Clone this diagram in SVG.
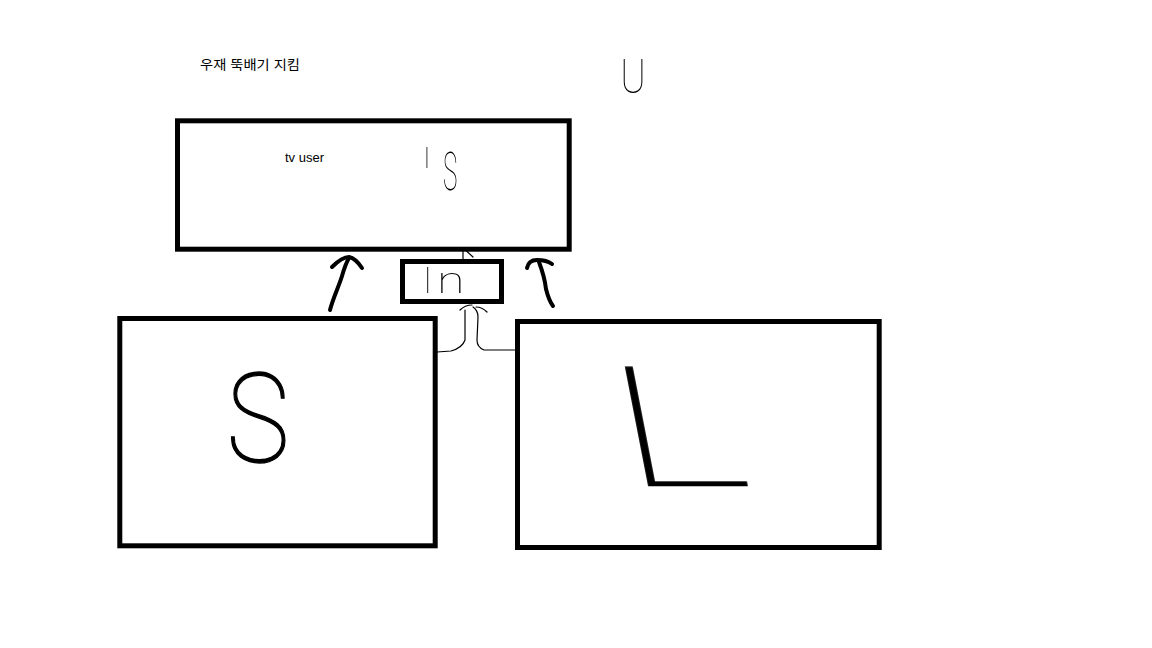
<svg xmlns="http://www.w3.org/2000/svg" width="1152" height="648" viewBox="0 0 1152 648">
<defs>
<filter id="gray" x="-20%" y="-20%" width="140%" height="140%"><feColorMatrix type="saturate" values="0"/></filter>
</defs>
<style>
.box{fill:none;stroke:#000;stroke-width:5}
.thick{fill:none;stroke:#000;stroke-width:4;stroke-linecap:round;stroke-linejoin:round}
.thin{fill:none;stroke:#000;stroke-width:1.2;stroke-linecap:round;stroke-linejoin:round}
.lbl{font-family:"Liberation Sans","Noto Sans CJK KR",sans-serif;font-size:13px;fill:#000}
.hand{font-family:Roboto,Inter,Lato,"DejaVu Sans",sans-serif;font-weight:100;fill:#000;filter:url(#gray)}
.bold{stroke:#000;stroke-width:1.3}
</style>
<rect width="1152" height="648" fill="#fff"/>
<text class="lbl" x="200" y="69" textLength="100" lengthAdjust="spacingAndGlyphs">우재 뚝배기 지킴</text>
<g id="mark-u">
<text class="hand" font-size="48" transform="translate(633,93) scale(0.8,1)" text-anchor="middle">U</text>
</g>
<g id="node-tv-user">
<rect class="box" x="177.5" y="120.8" width="391.7" height="128.4"/>
<text class="lbl" x="285" y="161.5">tv user</text>
<text class="hand" font-size="30" x="423" y="168">I</text>
<text class="hand" font-size="54" transform="translate(443,190) scale(0.45,1)">S</text>
</g>
<g id="node-in">
<rect class="box" x="402.5" y="261.5" width="99" height="40"/>
<text class="hand" font-size="36" x="423" y="293">I</text>
<text class="hand" font-size="36" transform="translate(437,293) scale(1.4,1)">n</text>
</g>
<g id="node-s">
<rect class="box" x="119.8" y="318.5" width="315.4" height="227.3"/>
<text class="hand bold" font-size="125" transform="translate(258,462) scale(0.85,1)" text-anchor="middle">S</text>
</g>
<g id="node-l">
<rect class="box" x="517.5" y="321.5" width="361.7" height="226"/>
<text class="hand" font-size="168" stroke="#000" stroke-width="0.6" transform="translate(624,486) skewX(11) scale(1.5,1)">L</text>
</g>
<g id="connectors">
<path class="thick" d="M330,310 C333,298 339,286 342,276 C344,269 346,263 349,258"/>
<path class="thick" d="M332,267 C337,262 343,257 349,257 C354,258 358,262 362,268"/>
<path class="thick" d="M527,268 C528,263 531,260 537,260 C543,260 548,261 552,264"/>
<path class="thick" d="M539,262 C542,270 545,280 546,289 C548,297 550,302 553,306"/>
<path class="thin" d="M463,248 L463,259"/>
<path class="thin" d="M466.5,251 L473,257"/>
<path class="thin" d="M437,352 L451,351 C458,349 463,346 465,340 L465,310"/>
<path class="thin" d="M460,310 C464,306 468,305 472,305"/>
<path class="thin" d="M517,350 L484,350 C479,348 477,344 477,340 L478,317 C478,312 476,309 473,307"/>
<path class="thin" d="M476,307 C480,307 484,309 487,312"/>
</g>
</svg>
